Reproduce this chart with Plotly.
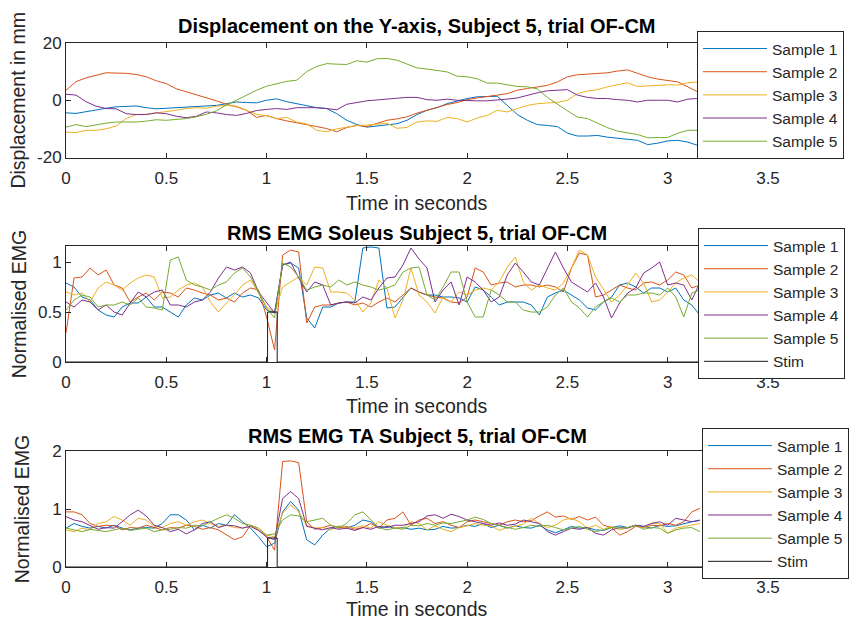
import plotly.graph_objects as go

# ---------------------------------------------------------------- data
sample_names = ["Sample 1", "Sample 2", "Sample 3", "Sample 4", "Sample 5"]
sample_colors = ["#0072BD", "#D95319", "#EDB120", "#7E2F8E", "#77AC30"]

# displacement on the Y-axis (mm), sampled every 0.05 s
t_disp = [0.00, 0.05, 0.10, 0.15, 0.20, 0.25, 0.30, 0.35, 0.40, 0.45,
          0.50, 0.55, 0.60, 0.65, 0.70, 0.75, 0.80, 0.85, 0.90, 0.95,
          1.00, 1.05, 1.10, 1.15, 1.20, 1.25, 1.30, 1.35, 1.40, 1.45,
          1.50, 1.55, 1.60, 1.65, 1.70, 1.75, 1.80, 1.85, 1.90, 1.95,
          2.00, 2.05, 2.10, 2.15, 2.20, 2.25, 2.30, 2.35, 2.40, 2.45,
          2.50, 2.55, 2.60, 2.65, 2.70, 2.75, 2.80, 2.85, 2.90, 2.95,
          3.00, 3.05, 3.10, 3.15]

disp_s1 = [-4.4, -4.6, -4.0, -3.3, -2.8, -2.3, -2.1, -2.0, -2.6, -3.0,
           -2.8, -2.6, -2.6, -2.3, -2.1, -1.8, -1.2, -0.6, -0.8, -0.9,
           0.0, 0.5, -0.5, -1.2, -2.0, -2.6, -2.9, -4.7, -7.0, -8.5,
           -9.4, -9.0, -8.5, -8.2, -7.0, -5.0, -3.5, -2.6, -1.2, -0.3,
           0.6, 1.2, 1.4, 1.4, -1.8, -5.0, -7.0, -8.5, -8.8, -9.2,
           -11.5, -12.5, -12.5, -12.3, -12.9, -13.3, -13.6, -14.0, -15.5, -15.0,
           -14.2, -14.0, -14.6, -15.8]
disp_s2 = [3.5, 6.5, 7.8, 8.8, 9.6, 9.5, 9.4, 9.0, 8.2, 6.8,
           5.8, 4.0, 3.0, 2.0, 1.0, -0.2, -1.4, -2.3, -3.5, -6.0,
           -5.3, -6.4, -7.2, -7.8, -8.4, -9.2, -9.9, -11.0, -9.5, -8.8,
           -9.2, -8.2, -7.0, -6.5, -5.8, -4.5, -3.5, -2.3, -1.5, -0.8,
           0.2, 0.8, 1.2, 1.8, 2.3, 3.5, 4.1, 4.6, 5.2, 6.4,
           8.2, 8.9, 9.1, 9.4, 9.6, 10.2, 10.6, 9.4, 8.2, 7.4,
           7.0, 6.4, 4.7, 2.9]
disp_s3 = [-11.1, -11.3, -10.5, -10.5, -10.0, -9.0, -6.4, -5.0, -4.9, -4.5,
           -4.1, -3.5, -2.9, -2.6, -2.8, -2.1, -1.8, -2.1, -3.5, -4.9,
           -5.4, -6.4, -6.0, -7.6, -8.3, -10.5, -11.0, -10.0, -9.4, -8.8,
           -8.7, -8.4, -8.0, -9.8, -9.5, -7.6, -7.2, -7.4, -6.0, -6.4,
           -7.6, -6.2, -5.3, -3.5, -4.1, -2.9, -1.8, -1.2, -0.9, -0.7,
           0.0, 2.3, 3.2, 3.7, 4.7, 5.3, 6.1, 4.8, 5.0, 5.3,
           5.4, 5.3, 6.1, 6.4]
disp_s4 = [2.1, 1.8, -0.5, -2.1, -2.9, -3.0, -4.7, -5.0, -5.0, -4.4,
           -4.7, -5.6, -6.1, -5.6, -4.1, -4.4, -5.0, -5.3, -4.6, -3.6,
           -3.2, -2.9, -3.2, -2.6, -2.6, -2.6, -2.9, -3.3, -1.4, -0.8,
           -0.2, 0.1, 0.4, 0.6, 1.0, 1.0, 0.2, 0.0, 0.4, 0.0,
           -0.2, -0.2, -0.2, 0.0, 0.4, 0.8, 1.8, 2.6, 3.3, 3.5,
           3.7, 1.8, 1.0, 0.6, 0.6, 0.2, 0.0, -0.6, 0.0, 0.0,
           0.0, -0.6, 0.4, 0.6]
disp_s5 = [-9.4, -8.5, -9.2, -8.5, -8.0, -7.6, -7.6, -7.6, -7.3, -6.8,
           -7.0, -6.8, -6.4, -5.8, -4.9, -3.7, -1.6, 0.0, 1.8, 3.5,
           4.9, 5.8, 6.6, 7.0, 10.0, 11.8, 12.8, 12.6, 12.5, 13.8,
           13.3, 14.5, 14.6, 14.0, 12.7, 11.3, 10.9, 10.3, 9.9, 8.4,
           8.2, 7.5, 6.0, 6.0, 5.5, 4.8, 4.7, 4.0, 1.0, -1.5,
           -3.7, -5.9, -6.4, -8.0, -9.6, -10.8, -11.4, -12.0, -13.1, -13.1,
           -13.0, -11.5, -10.5, -10.5]

# RMS EMG envelopes, sampled every 0.04 s
t_emg = [0.00, 0.04, 0.08, 0.12, 0.16, 0.20, 0.24, 0.28, 0.32, 0.36,
         0.40, 0.44, 0.48, 0.52, 0.56, 0.60, 0.64, 0.68, 0.72, 0.76,
         0.80, 0.84, 0.88, 0.92, 0.96, 1.00, 1.04, 1.08, 1.12, 1.16,
         1.20, 1.24, 1.28, 1.32, 1.36, 1.40, 1.44, 1.48, 1.52, 1.56,
         1.60, 1.64, 1.68, 1.72, 1.76, 1.80, 1.84, 1.88, 1.92, 1.96,
         2.00, 2.04, 2.08, 2.12, 2.16, 2.20, 2.24, 2.28, 2.32, 2.36,
         2.40, 2.44, 2.48, 2.52, 2.56, 2.60, 2.64, 2.68, 2.72, 2.76,
         2.80, 2.84, 2.88, 2.92, 2.96, 3.00, 3.04, 3.08, 3.12, 3.16]

sol_s1 = [0.79, 0.75, 0.65, 0.62, 0.52, 0.47, 0.45, 0.55, 0.59, 0.59,
          0.65, 0.55, 0.55, 0.50, 0.45, 0.57, 0.64, 0.62, 0.67, 0.69,
          0.64, 0.69, 0.65, 0.67, 0.64, 0.52, 0.49, 0.97, 0.99, 0.94,
          0.44, 0.34, 0.55, 0.55, 0.59, 0.60, 0.60, 1.14, 1.15, 1.14,
          0.54, 0.55, 0.65, 0.74, 0.70, 0.67, 0.67, 0.65, 0.65, 0.64,
          0.60, 0.75, 0.72, 0.65, 0.57, 0.60, 0.60, 0.60, 0.57, 0.47,
          0.65, 0.69, 0.72, 0.67, 0.62, 0.54, 0.52, 0.60, 0.65, 0.77,
          0.79, 0.75, 0.69, 0.74, 0.74, 0.70, 0.74, 0.62, 0.57, 0.47]
sol_s2 = [0.29, 0.84, 0.85, 0.94, 0.87, 0.92, 0.77, 0.74, 0.60, 0.65,
          0.69, 0.62, 0.70, 0.69, 0.65, 0.74, 0.72, 0.69, 0.67, 0.62,
          0.64, 0.60, 0.69, 0.74, 0.72, 0.45, 0.12, 1.07, 1.12, 1.10,
          0.39, 0.55, 0.57, 0.57, 0.59, 0.60, 0.57, 0.59, 0.55, 0.60,
          0.64, 0.60, 0.67, 0.74, 0.70, 0.67, 0.65, 0.64, 0.60, 0.59,
          0.65, 0.94, 0.90, 0.77, 0.79, 0.80, 0.75, 0.77, 0.77, 0.75,
          0.77, 0.75, 0.70, 0.94, 1.09, 1.07, 0.65, 0.67, 0.72, 0.77,
          0.74, 0.72, 0.79, 0.80, 0.77, 0.82, 0.90, 0.87, 0.74, 0.77]
sol_s3 = [0.70, 0.67, 0.69, 0.60, 0.74, 0.80, 0.77, 0.72, 0.79, 0.84,
          0.87, 0.85, 0.64, 0.65, 0.72, 0.77, 0.79, 0.75, 0.60, 0.50,
          0.59, 0.67, 0.77, 0.82, 0.69, 0.55, 0.49, 0.75, 0.80, 0.85,
          0.77, 0.95, 0.94, 0.70, 0.70, 0.69, 0.62, 0.50, 0.59, 0.82,
          0.74, 0.44, 0.62, 0.94, 0.67, 0.60, 0.49, 0.65, 0.60, 0.70,
          0.67, 0.72, 0.74, 0.72, 0.80, 0.95, 1.05, 0.80, 0.72, 0.77,
          0.74, 0.72, 0.79, 0.94, 1.12, 1.07, 0.85, 0.72, 0.60, 0.67,
          0.77, 0.89, 0.79, 0.60, 0.62, 0.70, 0.79, 0.84, 0.87, 0.80]
sol_s4 = [0.60, 0.55, 0.62, 0.60, 0.52, 0.57, 0.50, 0.47, 0.59, 0.70,
          0.65, 0.70, 0.72, 0.57, 0.57, 0.55, 0.60, 0.62, 0.70, 0.84,
          0.95, 0.92, 0.95, 0.89, 0.70, 0.59, 0.49, 0.97, 1.00, 0.84,
          0.70, 0.80, 0.77, 0.57, 0.59, 0.60, 0.59, 0.65, 0.62, 0.74,
          0.84, 0.85, 0.97, 1.14, 1.03, 0.94, 0.60, 0.72, 0.80, 0.57,
          0.85, 0.80, 0.72, 0.60, 0.65, 0.87, 0.99, 0.90, 0.80, 0.77,
          0.94, 1.10, 0.94, 0.80, 0.75, 0.70, 0.79, 0.65, 0.44, 0.59,
          0.69, 0.74, 0.89, 0.94, 1.00, 0.77, 0.79, 0.77, 0.62, 0.79]
sol_s5 = [0.52, 0.62, 0.67, 0.65, 0.55, 0.57, 0.57, 0.60, 0.57, 0.64,
          0.55, 0.54, 0.52, 1.02, 1.05, 0.82, 0.77, 0.75, 0.72, 0.77,
          0.80, 0.89, 0.94, 0.85, 0.70, 0.54, 0.44, 0.99, 0.95, 0.85,
          0.72, 0.75, 0.77, 0.75, 0.82, 0.77, 0.80, 0.77, 0.75, 0.72,
          0.74, 0.77, 0.90, 0.94, 0.95, 0.67, 0.62, 0.75, 0.90, 0.90,
          0.60, 0.45, 0.45, 0.72, 0.67, 0.60, 0.60, 0.52, 0.50, 0.50,
          0.55, 0.67, 0.74, 0.60, 0.54, 0.45, 0.55, 0.60, 0.64, 0.60,
          0.67, 0.67, 0.69, 0.69, 0.67, 0.74, 0.65, 0.45, 0.69, 0.72]

ta_s1 = [0.67, 0.75, 0.70, 0.67, 0.70, 0.67, 0.72, 0.67, 0.64, 0.67,
         0.68, 0.67, 0.75, 0.90, 0.90, 0.81, 0.64, 0.72, 0.67, 0.75,
         0.72, 0.90, 0.78, 0.67, 0.52, 0.35, 0.41, 0.95, 1.13, 0.98,
         0.47, 0.38, 0.55, 0.67, 0.70, 0.67, 0.72, 0.81, 0.78, 0.67,
         0.70, 0.67, 0.68, 0.65, 0.67, 0.64, 0.65, 0.70, 0.67, 0.68,
         0.72, 0.70, 0.75, 0.68, 0.72, 0.67, 0.71, 0.68, 0.67, 0.72,
         0.64, 0.59, 0.64, 0.70, 0.67, 0.68, 0.64, 0.63, 0.68, 0.71,
         0.68, 0.72, 0.70, 0.67, 0.72, 0.70, 0.71, 0.75, 0.78, 0.80]
ta_s2 = [0.95, 0.95, 0.90, 0.75, 0.70, 0.72, 0.71, 0.64, 0.68, 0.67,
         0.72, 0.68, 0.64, 0.68, 0.67, 0.72, 0.70, 0.65, 0.68, 0.64,
         0.55, 0.47, 0.52, 0.72, 0.64, 0.52, 0.29, 1.82, 1.83, 1.80,
         0.78, 0.65, 0.68, 0.72, 0.67, 0.70, 0.65, 0.68, 0.75, 0.67,
         0.81, 0.84, 0.95, 0.72, 0.81, 0.84, 0.75, 0.78, 0.72, 0.68,
         0.78, 0.81, 0.78, 0.75, 0.72, 0.78, 0.81, 0.78, 0.80, 0.88,
         0.95, 0.86, 0.88, 0.82, 0.87, 0.81, 0.86, 0.72, 0.68, 0.55,
         0.61, 0.70, 0.68, 0.72, 0.71, 0.75, 0.72, 0.78, 0.95, 1.01]
ta_s3 = [0.64, 0.61, 0.67, 0.64, 0.75, 0.78, 0.87, 0.81, 0.72, 0.84,
         0.81, 0.70, 0.68, 0.75, 0.78, 0.72, 0.78, 0.81, 0.75, 0.70,
         0.72, 0.68, 0.67, 0.71, 0.64, 0.55, 0.52, 0.93, 1.07, 0.95,
         0.72, 0.67, 0.68, 0.64, 0.71, 0.67, 0.68, 0.71, 0.67, 0.78,
         0.72, 0.68, 0.67, 0.78, 0.75, 0.64, 0.71, 0.65, 0.61, 0.68,
         0.71, 0.75, 0.72, 0.71, 0.63, 0.68, 0.70, 0.74, 0.84, 0.75,
         0.68, 0.72, 0.81, 0.84, 0.78, 0.67, 0.72, 0.65, 0.70, 0.64,
         0.68, 0.72, 0.67, 0.76, 0.75, 0.58, 0.67, 0.70, 0.72, 0.75]
ta_s4 = [0.87, 0.81, 0.78, 0.72, 0.65, 0.68, 0.67, 0.78, 0.90, 0.98,
         0.88, 0.72, 0.68, 0.61, 0.65, 0.57, 0.64, 0.75, 0.78, 0.68,
         0.72, 0.71, 0.67, 0.70, 0.63, 0.52, 0.47, 1.18, 1.30, 1.18,
         0.70, 0.67, 0.64, 0.68, 0.65, 0.67, 0.63, 0.68, 0.65, 0.70,
         0.68, 0.72, 0.72, 0.75, 0.78, 0.88, 0.90, 0.84, 0.91, 0.87,
         0.81, 0.78, 0.75, 0.72, 0.76, 0.72, 0.74, 0.81, 0.78, 0.75,
         0.61, 0.55, 0.61, 0.67, 0.65, 0.68, 0.58, 0.55, 0.64, 0.68,
         0.67, 0.72, 0.70, 0.75, 0.78, 0.72, 0.84, 0.81, 0.78, 0.81]
ta_s5 = [0.67, 0.64, 0.61, 0.65, 0.63, 0.61, 0.64, 0.67, 0.63, 0.65,
         0.67, 0.61, 0.64, 0.65, 0.68, 0.67, 0.72, 0.71, 0.78, 0.84,
         0.90, 0.84, 0.75, 0.72, 0.67, 0.55, 0.57, 0.81, 0.90, 0.88,
         0.78, 0.81, 0.84, 0.72, 0.68, 0.75, 0.90, 0.95, 0.81, 0.68,
         0.64, 0.67, 0.65, 0.72, 0.71, 0.75, 0.72, 0.76, 0.75, 0.78,
         0.81, 0.86, 0.82, 0.75, 0.72, 0.68, 0.65, 0.68, 0.72, 0.70,
         0.72, 0.68, 0.64, 0.67, 0.70, 0.65, 0.61, 0.64, 0.68, 0.67,
         0.68, 0.72, 0.65, 0.68, 0.67, 0.58, 0.64, 0.67, 0.68, 0.61]

# stimulation marker (on/off pulse)
t_stim = [0.0, 1.005, 1.005, 1.053, 1.053, 3.5]
v_stim = [0.0, 0.0, 0.5, 0.5, 0.0, 0.0]

x_ticks = [0, 0.5, 1, 1.5, 2, 2.5, 3, 3.5]
x_tick_text = ["0", "0.5", "1", "1.5", "2", "2.5", "3", "3.5"]

disp_series = [disp_s1, disp_s2, disp_s3, disp_s4, disp_s5]
sol_series = [sol_s1, sol_s2, sol_s3, sol_s4, sol_s5]
ta_series = [ta_s1, ta_s2, ta_s3, ta_s4, ta_s5]

# ---------------------------------------------------------------- figure
W, H = 851, 623
FONT = "Liberation Sans, Arial, Helvetica, sans-serif"
INK = "#262626"

fig = go.Figure()

panels = [
    ("x", "y", "legend", t_disp, disp_series, False),
    ("x2", "y2", "legend2", t_emg, sol_series, True),
    ("x3", "y3", "legend3", t_emg, ta_series, True),
]
for xa, ya, lg, tt, series, with_stim in panels:
    for name, color, vals in zip(sample_names, sample_colors, series):
        fig.add_trace(go.Scatter(x=tt, y=vals, mode="lines", name=name,
                                 line=dict(color=color, width=1),
                                 xaxis=xa, yaxis=ya, legend=lg))
    if with_stim:
        fig.add_trace(go.Scatter(x=t_stim, y=v_stim, mode="lines", name="Stim",
                                 line=dict(color="#1a1a1a", width=1),
                                 xaxis=xa, yaxis=ya, legend=lg))


def px_x(p):
    return p / W


def px_y(p):
    return 1 - p / H


x_dom = [px_x(66), px_x(768)]
y_doms = [[px_y(157.5), px_y(43)], [px_y(362), px_y(246)], [px_y(567), px_y(451)]]

axis_common = dict(showline=True, mirror="ticks", linecolor=INK, linewidth=1,
                   ticks="inside", ticklen=5, tickcolor=INK, tickwidth=1,
                   showgrid=False, zeroline=False, automargin=False,
                   tickfont=dict(family=FONT, size=17, color=INK))

layout_axes = {}
y_ranges = [[-20, 20], [0, 1.16], [0, 2]]
y_tickvals = [[-20, 0, 20], [0, 0.5, 1], [0, 1, 2]]
y_ticktext = [["-20", "0", "20"], ["0", "0.5", "1"], ["0", "1", "2"]]
y_titles = ["Displacement in mm", "Normalised EMG", "Normalised EMG"]
y_standoff = [6, 6, 17]
for i in range(3):
    sfx = "" if i == 0 else str(i + 1)
    layout_axes["xaxis" + sfx] = dict(
        axis_common, domain=x_dom, range=[0, 3.5], anchor="y" + sfx,
        tickvals=x_ticks, ticktext=x_tick_text, ticklabelstandoff=5)
    layout_axes["yaxis" + sfx] = dict(
        axis_common, domain=y_doms[i], range=y_ranges[i], anchor="x" + sfx,
        tickvals=y_tickvals[i], ticktext=y_ticktext[i],
        title=dict(text=y_titles[i], standoff=y_standoff[i],
                   font=dict(family=FONT, size=19.5, color=INK)))

titles = ["Displacement on the Y-axis, Subject 5, trial OF-CM",
          "RMS EMG Soleus Subject 5, trial OF-CM",
          "RMS EMG TA Subject 5, trial OF-CM"]
title_lift = [4, 0, 2]
x_label_drop = [45, 44, 42]
annotations = []
x_mid = (x_dom[0] + x_dom[1]) / 2
for i, txt in enumerate(titles):
    annotations.append(dict(text="<b>" + txt + "</b>", xref="paper", yref="paper",
                            x=x_mid, y=y_doms[i][1],
                            xanchor="center", yanchor="bottom", showarrow=False,
                            yshift=title_lift[i],
                            font=dict(family=FONT, size=20, color="#000000")))
    # x-axis label under each panel
    annotations.append(dict(text="Time in seconds", xref="paper", yref="paper",
                            x=x_mid, y=y_doms[i][0],
                            xanchor="center", yanchor="middle", showarrow=False,
                            yshift=-x_label_drop[i],
                            font=dict(family=FONT, size=19.5, color=INK)))

legend_common = dict(xanchor="left", yanchor="top", bgcolor="white",
                     bordercolor=INK, borderwidth=1, itemwidth=64,
                     tracegroupgap=0,
                     font=dict(family=FONT, size=15.5, color=INK))

fig.update_layout(
    width=W, height=H,
    margin=dict(l=0, r=0, t=0, b=0, autoexpand=False),
    paper_bgcolor="white", plot_bgcolor="white",
    font=dict(family=FONT, color=INK),
    showlegend=True,
    legend=dict(legend_common, x=px_x(697), y=px_y(31)),
    legend2=dict(legend_common, x=px_x(698), y=px_y(228)),
    legend3=dict(legend_common, x=px_x(702), y=px_y(428)),
    annotations=annotations,
    **layout_axes,
)

fig.write_html("out.html")
